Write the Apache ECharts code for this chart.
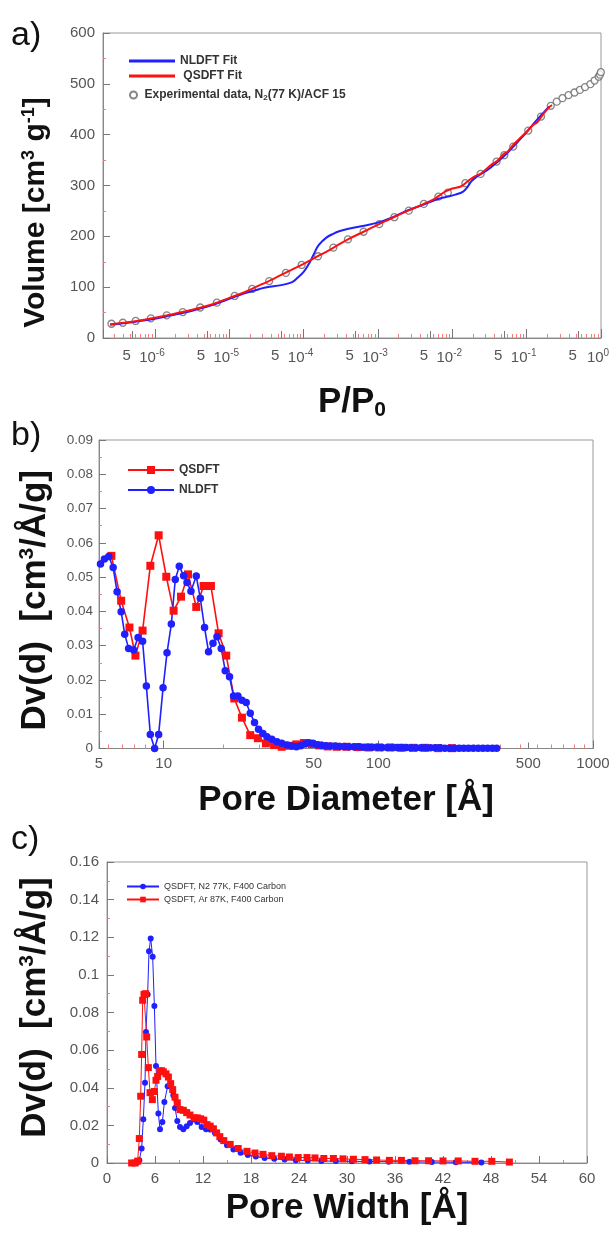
<!DOCTYPE html>
<html><head><meta charset="utf-8">
<script src="https://cdn.jsdelivr.net/npm/echarts@6/dist/echarts.min.js"></script>
<style>html,body{margin:0;padding:0;background:#fff}#c{width:613px;height:1234px}</style>
</head><body><div id="c"></div><script>
// ---------- Panel a: isotherm ----------
const expP = [2.6e-7,3.7e-7,5.5e-7,8.8e-7,1.44e-6,2.37e-6,4.06e-6,6.8e-6,1.18e-5,2.03e-5,3.44e-5,5.77e-5,9.4e-5,1.56e-4,2.51e-4,3.94e-4,6.4e-4,1.04e-3,1.66e-3,2.6e-3,4.14e-3,6.5e-3,8.7e-3,1.5e-2,2.4e-2,3.94e-2,5.0e-2,6.6e-2,0.105,0.156,0.211,0.254,0.303,0.366,0.44,0.52,0.61,0.72,0.82,0.93,0.97,0.995];
const expV = [28,30,33.5,38.7,44.6,51,60,69.5,82.7,96.5,112,128,143.7,160.8,177.8,194,209,224,237.6,250.6,263.8,278,286,304.5,322.8,347,359.6,376.6,408,435.6,456.7,465,471.8,477.8,483,488,493.5,499.4,506.5,514,518,523];
const nldftP = [2.5e-7,4e-7,6e-7,1e-6,1.6e-6,2.5e-6,4e-6,6.5e-6,1e-5,1.6e-5,2.5e-5,3.2e-5,5e-5,7e-5,8.2e-5,1e-4,1.2e-4,1.4e-4,1.6e-4,2e-4,2.5e-4,3e-4,4e-4,6.5e-4,1e-3,1.5e-3,2.5e-3,4e-3,6e-3,8e-3,1.1e-2,1.4e-2,1.6e-2,1.8e-2,2.2e-2,3e-2,4e-2,5.5e-2,7.5e-2,0.1,0.13,0.17,0.2];
const nldftV = [26,29.5,33,38,44,50,58,67,77,88,96,100,104,110,118,130,148,168,183,197,205,210,215,221,227,236,251,262,272,277,282,288,297,308,319,331,346,364,385,405,425,444,455];
const qsdftP = [2.5e-7,4e-7,6e-7,1e-6,1.6e-6,2.5e-6,4e-6,6.5e-6,1e-5,1.6e-5,2.5e-5,4e-5,6e-5,1e-4,1.6e-4,2.5e-4,4e-4,6.5e-4,1e-3,1.6e-3,2.5e-3,4e-3,5.5e-3,6.5e-3,8e-3,1e-2,1.3e-2,1.6e-2,2e-2,2.4e-2,3e-2,3.5e-2,4e-2,5e-2,5.5e-2,6.5e-2,8e-2,0.1,0.12,0.14,0.17,0.2,0.22];
const qsdftV = [27,30.5,34,40,46,52,59.5,68.5,79,90,103,117,130,146,162,177.5,194.5,209.5,223,237,250,263,272,279,288,294,298,308,318,323,335,343,348,363,366,379,392,406,418,425,442,454,458];

// ---------- Panel b: PSD (log diameter) ----------
const bQsdftD = [5.71,6.34,6.93,7.39,7.98,8.67,9.48,10.29,11.13,12.05,12.99,14.19,15.35,16.61,18.03,19.57,21.33,23.16,25.32,27.48,29.95,32.7,35.5,38.5,41.5,45,49,53,58,64,71,80,90,101,114,128,145,165,190,220];
const bQsdftV = [0.0562,0.0431,0.0353,0.0271,0.0344,0.0533,0.0622,0.0501,0.0402,0.0443,0.0508,0.0413,0.0474,0.0474,0.0336,0.0271,0.0146,0.0090,0.0039,0.0030,0.0015,0.0010,0.0005,0.0008,0.0012,0.0016,0.0013,0.0009,0.0006,0.0005,0.0005,0.0004,0.0003,0.0003,0.0003,0.0002,0.0002,0.0002,0.0001,0.0001];
const bNldftD = [5.08,5.30,5.55,5.82,6.07,6.34,6.59,6.87,7.25,7.60,7.98,8.31,8.67,9.08,9.48,9.94,10.37,10.86,11.33,11.83,12.39,12.85,13.41,14.19,14.82,15.51,16.19,16.98,17.72,18.55,19.36,20.28,21.17,22.18,23.16,24.25,25.32,26.5,27.67,29.0,30.27,31.9,33.7,35.5,37.5,
  39.5,41.5,43.5,45.5,47.5,49.5,52,54.5,57,60,63,66,69.5,73,77,81,85,89.5,94,99,104,110,116,122,128,135,142,150,158,166,175,184,194,204,215,226,238,250,263,277,292,307,323,340,356];
const bNldftV = [0.0538,0.0553,0.0560,0.0528,0.0457,0.0399,0.0333,0.0292,0.0287,0.0324,0.0313,0.0182,0.0041,0,0.0041,0.0177,0.0279,0.0363,0.0493,0.0532,0.0504,0.0484,0.0459,0.0503,0.0438,0.0353,0.0282,0.0307,0.0326,0.0292,0.0227,0.0209,0.0153,0.0153,0.0141,0.0134,0.0103,0.0076,0.0056,0.0044,0.0034,0.0027,0.0020,0.0015,0.0010,
  0.0007,0.0005,0.0008,0.0013,0.0017,0.0015,0.0011,0.0009,0.0008,0.0007,0.0007,0.0006,0.0006,0.0005,0.0005,0.0005,0.0004,0.0004,0.0004,0.0004,0.0003,0.0003,0.0003,0.0003,0.0003,0.0003,0.0002,0.0002,0.0002,0.0002,0.0002,0.0002,0.0002,0.0001,0.0001,0.0001,0.0001,0.0001,0.0001,0.0001,0.0001,0.0001,0.0001,0.0001,0.0001];

// ---------- Panel c: PSD (linear width) ----------
const cN2W = [3.71,4.04,4.33,4.54,4.75,4.875,5.08,5.25,5.46,5.71,5.92,6.125,6.42,6.625,6.92,7.17,7.58,7.96,8.29,8.5,8.79,9.125,9.54,9.96,10.375,10.875,11.29,11.83,12.375,12.875,13.5,14.2,15.0,15.8,16.7,17.6,18.6,19.7,20.9,22.2,23.6,25.1,26.8,28.6,30.6,32.8,35.2,37.8,40.6,43.6,46.8];
const cN2V = [0,0.0015,0.0077,0.0232,0.0426,0.0697,0.0896,0.1126,0.1193,0.1096,0.0835,0.0516,0.0263,0.0179,0.0218,0.0324,0.0408,0.0408,0.036,0.0293,0.0223,0.0191,0.0179,0.0195,0.0213,0.0231,0.0218,0.0191,0.018,0.0178,0.016,0.0125,0.0095,0.0072,0.0055,0.0043,0.0034,0.0027,0.0022,0.0018,0.0015,0.0013,0.0011,0.0010,0.0009,0.0008,0.0007,0.0006,0.0005,0.0004,0.0003];
const cArW = [3.08,3.5,3.83,4.04,4.21,4.33,4.46,4.625,4.83,4.96,5.17,5.375,5.67,5.92,6.125,6.33,6.625,6.83,7.04,7.375,7.67,7.96,8.21,8.5,8.79,9.125,9.54,9.96,10.375,10.875,11.29,11.71,12.1,12.5,12.9,13.3,13.7,14.1,14.6,15.4,16.4,17.5,18.5,19.5,20.6,21.8,22.8,23.9,25.0,26.0,27.1,28.3,29.5,30.8,32.25,33.7,35.3,36.8,38.5,40.2,42.0,43.9,46.0,48.1,50.3];
const cArV = [0,0,0.001,0.013,0.0355,0.0577,0.0865,0.0896,0.090,0.067,0.0507,0.0374,0.0337,0.038,0.044,0.046,0.049,0.049,0.0485,0.0474,0.0457,0.0422,0.039,0.035,0.032,0.0284,0.028,0.0268,0.0255,0.024,0.024,0.0235,0.0228,0.0204,0.0196,0.0182,0.016,0.014,0.0119,0.0099,0.0077,0.0062,0.0053,0.0046,0.0039,0.0036,0.0032,0.0029,0.0029,0.0027,0.0024,0.0024,0.0022,0.002,0.0018,0.0016,0.0014,0.0014,0.0012,0.0012,0.0011,0.0011,0.0009,0.0009,0.0005];

const zip = (xs, ys) => xs.map((x, i) => [x, ys[i]]);
const F = 'Liberation Sans, Arial, sans-serif';
const BLUE = '#1f1fff', RED = '#ff1010';
const lab = {color: '#555', fontSize: 15, fontFamily: F};
const tickC = '#777';
function isPow10(v) { const l = Math.log10(v); return Math.abs(l - Math.round(l)) < 1e-6; }

const chart = echarts.init(document.getElementById('c'), null, {renderer: 'canvas'});
const yName = (txt, gap, fs, pad) => ({
  name: txt, nameLocation: 'middle', nameGap: gap, nameRotate: 90,
  nameTextStyle: {fontSize: fs, fontWeight: 'bold', color: '#111', fontFamily: F, padding: pad,
    rich: {sup: {fontSize: Math.round(fs * 0.6), fontWeight: 'bold', color: '#111', fontFamily: F, verticalAlign: 'top', padding: [0,0,Math.round(fs*0.45),0]}}}
});
const xName = (txt, gap, fs) => ({
  name: txt, nameLocation: 'middle', nameGap: gap,
  nameTextStyle: {fontSize: fs, fontWeight: 'bold', color: '#111', fontFamily: F,
    rich: {sub: {fontSize: Math.round(fs * 0.6), fontWeight: 'bold', color: '#111', fontFamily: F, padding: [Math.round(fs*0.45),0,0,0]}}}
});
const boxAxis = {axisLine: {show: true, lineStyle: {color: '#888', width: 1}}, splitLine: {show: false}};

chart.setOption({
  animation: false,
  backgroundColor: '#fff',
  title: [
    {text: 'a)', left: 6, top: 14, textStyle: {fontSize: 34, fontWeight: 'normal', color: '#111', fontFamily: F}},
    {text: 'b)', left: 6, top: 414, textStyle: {fontSize: 34, fontWeight: 'normal', color: '#111', fontFamily: F}},
    {text: 'c)', left: 6, top: 818, textStyle: {fontSize: 34, fontWeight: 'normal', color: '#111', fontFamily: F}}
  ],
  grid: [
    {left: 103, top: 33, width: 498, height: 305, show: true, borderColor: '#999', borderWidth: 1},
    {left: 99, top: 440, width: 494, height: 308.5, show: true, borderColor: '#999', borderWidth: 1},
    {left: 107, top: 862, width: 480, height: 301, show: true, borderColor: '#999', borderWidth: 1}
  ],
  legend: [
    {data: [{name: 'NLDFT Fit', icon: 'rect'}, {name: 'QSDFT Fit', icon: 'rect'}], orient: 'vertical', left: 124, top: 50, itemWidth: 46, itemHeight: 3, itemGap: 3,
     formatter: n => n === 'QSDFT Fit' ? ' QSDFT Fit' : n,
     textStyle: {fontSize: 12, fontWeight: 'bold', color: '#333', fontFamily: F}},
    {data: ['Experimental data, N2(77 K)/ACF 15'], left: 124, top: 84, itemWidth: 12, itemHeight: 7,
     formatter: () => 'Experimental data, N{sub|2}(77 K)/ACF 15',
     textStyle: {fontSize: 12, fontWeight: 'bold', color: '#333', fontFamily: F,
       rich: {sub: {fontSize: 8, fontWeight: 'bold', color: '#333', fontFamily: F, padding: [6,0,0,0]}}}},
    {data: ['QSDFT', 'NLDFT'], orient: 'vertical', left: 122, top: 459, itemWidth: 46, itemHeight: 10, itemGap: 8,
     textStyle: {fontSize: 12, fontWeight: 'bold', color: '#333', fontFamily: F}},
    {data: ['QSDFT, N2 77K, F400 Carbon', 'QSDFT, Ar 87K, F400 Carbon'], orient: 'vertical', left: 121, top: 877, itemWidth: 32, itemHeight: 7, itemGap: 4,
     textStyle: {fontSize: 9, color: '#333', fontFamily: F}}
  ],
  xAxis: [
    Object.assign({gridIndex: 0, type: 'log', logBase: 10, min: 2e-7, max: 1,
      axisTick: {inside: true, length: 9, lineStyle: {color: tickC}},
      minorTick: {show: true, splitNumber: 10, length: 4, lineStyle: {color: '#f77'}},
      axisLabel: {margin: 10, ...lab, formatter: v => isPow10(v) ? '10{sup|' + Math.round(Math.log10(v)) + '}' : '',
        padding: [0, 6, 0, 0],
        rich: {sup: {fontSize: 10, color: '#555', fontFamily: F, verticalAlign: 'top', padding: [0,0,9,0]}}},
      }, boxAxis, xName('P/P{sub|0}', 46, 35)),
    {gridIndex: 0, type: 'log', logBase: 10, min: 4e-8, max: 0.2, position: 'bottom', axisLine: {show: false}, splitLine: {show: false},
      axisTick: {inside: true, length: 7, lineStyle: {color: tickC}},
      axisLabel: {margin: 10, ...lab, padding: [0, 12, 0, 0], formatter: v => (isPow10(v) && v > 5e-8 && v < 0.15) ? '5' : ''}},
    Object.assign({gridIndex: 1, type: 'log', logBase: 10, min: 5, max: 1000,
      axisTick: {inside: true, length: 8, lineStyle: {color: tickC}},
      minorTick: {show: true, splitNumber: 10, length: 4, lineStyle: {color: '#f77'}},
      axisLabel: {margin: 8, ...lab, formatter: v => isPow10(v) ? String(Math.round(v)) : ''}
      }, boxAxis, xName('Pore Diameter [Å]', 34, 35)),
    {gridIndex: 1, type: 'log', logBase: 10, min: 1, max: 200, position: 'bottom', axisLine: {show: false}, splitLine: {show: false},
      axisTick: {inside: true, length: 6, lineStyle: {color: tickC}},
      axisLabel: {margin: 8, ...lab, formatter: v => isPow10(v) ? String(Math.round(v * 5)) : ''}},
    Object.assign({gridIndex: 2, type: 'value', min: 0, max: 60, interval: 6,
      axisTick: {inside: true, length: 7, lineStyle: {color: tickC}},
      minorTick: {show: true, splitNumber: 2, length: 3, lineStyle: {color: '#f77'}},
      axisLabel: {margin: 8, ...lab}
      }, boxAxis, xName('Pore Width [Å]', 28, 35))
  ],
  yAxis: [
    Object.assign({gridIndex: 0, type: 'value', min: 0, max: 600, interval: 100,
      axisTick: {inside: true, length: 7, lineStyle: {color: tickC}},
      minorTick: {show: true, splitNumber: 2, length: 3, lineStyle: {color: '#f77'}},
      axisLabel: {margin: 8, ...lab}}, boxAxis, yName('Volume [cm{sup|3} g{sup|-1}]', 51, 30, [0, 54, 0, 0])),
    Object.assign({gridIndex: 1, type: 'value', min: 0, max: 0.09, interval: 0.01,
      axisTick: {inside: true, length: 7, lineStyle: {color: tickC}},
      minorTick: {show: true, splitNumber: 2, length: 3, lineStyle: {color: '#f77'}},
      axisLabel: {margin: 6, ...lab, fontSize: 13.5}}, boxAxis, yName('Dv(d)  [cm{sup|3}/Å/g]', 45, 35, [0, 12, 0, 0])),
    Object.assign({gridIndex: 2, type: 'value', min: 0, max: 0.16, interval: 0.02,
      axisTick: {inside: true, length: 7, lineStyle: {color: tickC}},
      minorTick: {show: true, splitNumber: 2, length: 3, lineStyle: {color: '#f77'}},
      axisLabel: {margin: 8, ...lab}}, boxAxis, yName('Dv(d)  [cm{sup|3}/Å/g]', 53, 35, [0, 0, 0, 10]))
  ],
  series: [
    {type: 'line', name: 'NLDFT Fit', xAxisIndex: 0, yAxisIndex: 0, data: zip(nldftP, nldftV), smooth: 0.35,
     symbol: 'none', color: BLUE, lineStyle: {color: BLUE, width: 2}},
    {type: 'line', name: 'QSDFT Fit', xAxisIndex: 0, yAxisIndex: 0, data: zip(qsdftP, qsdftV), smooth: 0.35,
     symbol: 'none', color: RED, lineStyle: {color: RED, width: 2}},
    {type: 'scatter', name: 'Experimental data, N2(77 K)/ACF 15', xAxisIndex: 0, yAxisIndex: 0, data: zip(expP, expV),
     symbol: 'circle', symbolSize: 7, itemStyle: {color: '#fff', borderColor: '#666', borderWidth: 1.3}},
    {type: 'line', name: 'QSDFT', xAxisIndex: 2, yAxisIndex: 1, data: zip(bQsdftD, bQsdftV),
     symbol: 'rect', symbolSize: 8, color: RED, lineStyle: {color: RED, width: 1.6}, itemStyle: {color: RED}},
    {type: 'line', name: 'NLDFT', xAxisIndex: 2, yAxisIndex: 1, data: zip(bNldftD, bNldftV),
     symbol: 'circle', symbolSize: 7.5, color: BLUE, lineStyle: {color: BLUE, width: 1.6}, itemStyle: {color: BLUE}},
    {type: 'line', name: 'QSDFT, N2 77K, F400 Carbon', xAxisIndex: 4, yAxisIndex: 2, data: zip(cN2W, cN2V),
     symbol: 'circle', symbolSize: 6, color: BLUE, lineStyle: {color: BLUE, width: 1}, itemStyle: {color: BLUE}},
    {type: 'line', name: 'QSDFT, Ar 87K, F400 Carbon', xAxisIndex: 4, yAxisIndex: 2, data: zip(cArW, cArV),
     symbol: 'rect', symbolSize: 7, color: RED, lineStyle: {color: RED, width: 1}, itemStyle: {color: RED}}
  ]
});
</script></body></html>
